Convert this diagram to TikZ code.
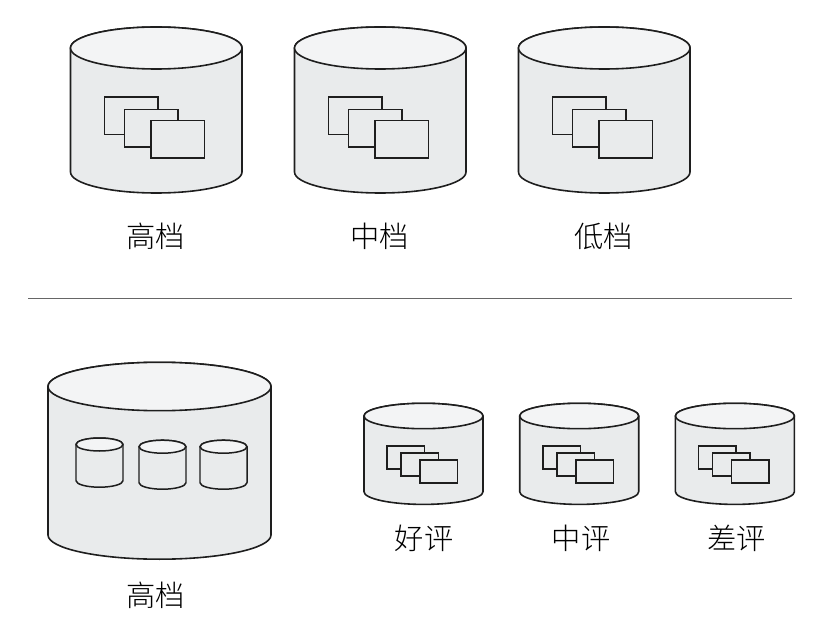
\documentclass[tikz,border=0pt]{standalone}
\usepackage{fontspec}
\newfontfamily\cjk{Noto Sans CJK SC Light}
\definecolor{bodyfill}{HTML}{E9EBEC}
\definecolor{topfill}{HTML}{F3F4F5}
\definecolor{ink}{HTML}{1E1E1E}
\definecolor{rulegray}{HTML}{666666}
\tikzset{
  cylbody/.style={draw=ink,fill=bodyfill,line width=1.6pt,line join=round},
  sheet/.style={draw=ink,fill=bodyfill,line width=1.6pt},
  smallbody/.style={draw=ink,fill=bodyfill,line width=1.5pt,line join=round},
  caption/.style={font=\cjk\fontsize{29.4}{32}\selectfont,text=black,inner sep=0pt,anchor=center},
}
% [style] left, right, ellipse centre y, ry, side bottom y
\newcommand{\drum}[6][cylbody]{%
  \pgfmathsetmacro{\rx}{(#3-#2)/2}%
  \path[#1] (#2,#4) -- (#2,#6) arc[start angle=180,end angle=360,x radius=\rx,y radius=-#5] -- (#3,#4) arc[start angle=0,end angle=180,x radius=\rx,y radius=-#5] -- cycle;
  \path[#1,fill=topfill] (#2,#4) arc[start angle=180,end angle=-180,x radius=\rx,y radius=#5] -- cycle;
}
\begin{document}
\begin{tikzpicture}[x=1bp,y=-1bp]
\useasboundingbox (0,0) rectangle (816,638);
\foreach \dx in {0,224,448}{
  \begin{scope}[xshift=\dx bp]
  \drum{70.5}{242}{48}{21}{172}
  \draw[sheet] (104.5,97) rectangle ++(53.5,37.7);
  \draw[sheet] (124.5,109.3) rectangle ++(53.5,37.7);
  \draw[sheet] (151,120.5) rectangle ++(53.5,37.7);
  \end{scope}
}
\node[caption] (t1) at (155.5,236) {高档};
\node[caption] (t2) at (379.5,236) {中档};
\node[caption] (t3) at (603.5,236) {低档};
\coordinate (ruleA) at (28,298);
\coordinate (ruleB) at (792,298);
\draw[color=rulegray,line width=1pt] (ruleA) -- (ruleB);
\drum{48}{271}{386.5}{24.2}{535}
\drum[smallbody]{76}{123}{444.5}{6.5}{480.7}
\drum[smallbody]{139}{186}{446.7}{6.5}{482.7}
\drum[smallbody]{200}{247}{446.7}{6.5}{482.7}
\node[caption] (b1) at (155.5,595.5) {高档};
\foreach \dx in {0,155.7,311.4}{
  \begin{scope}[xshift=\dx bp]
  \drum{364}{483}{416}{12.7}{491.7}
  \draw[sheet] (387,445.7) rectangle ++(37.6,23);
  \draw[sheet] (401,453) rectangle ++(37.6,23);
  \draw[sheet] (420,460) rectangle ++(37.6,23);
  \end{scope}
}
\node[caption] (b2) at (424,538.5) {好评};
\node[caption] (b3) at (581,538.5) {中评};
\node[caption] (b4) at (736.5,538.5) {差评};
\end{tikzpicture}
\end{document}
